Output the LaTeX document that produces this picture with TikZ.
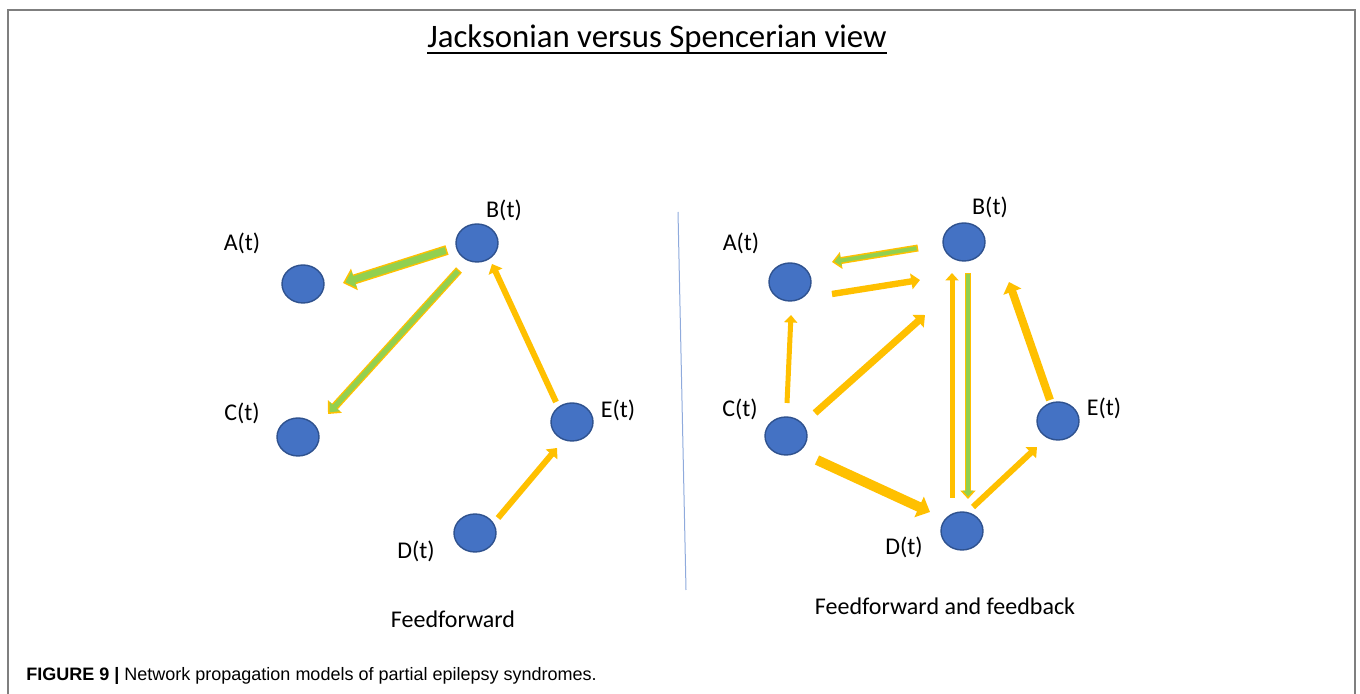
\documentclass[tikz,border=0pt]{standalone}
\usepackage{fontspec}
\setmainfont{Carlito}
\newfontfamily\capfont{Liberation Sans}
\usetikzlibrary{arrows.meta,shapes.geometric}
\definecolor{ballblue}{HTML}{4472C4}
\definecolor{ballrim}{HTML}{2F528F}
\definecolor{amber}{HTML}{FFC000}
\definecolor{leaf}{HTML}{92D050}
\definecolor{divider}{HTML}{8FAADC}
\definecolor{framegray}{HTML}{7F7F7F}
\tikzset{>={Triangle[width=2pt 1.8,length=1.5pt 0.9]}}
\tikzset{ball/.style={ellipse,draw=ballrim,fill=ballblue,line width=0.7pt,
  minimum width=21pt,minimum height=19pt,inner sep=0pt}}

\begin{document}
\begin{tikzpicture}[x=0.5pt,y=-0.5pt]

\tikzstyle{lab}=[inner sep=0pt,font=\fontsize{12}{14}\selectfont]
\tikzstyle{fwd}=[->,draw=amber,line width=#1]
\tikzstyle{fbout}=[->,draw=amber,line width=#1]
\tikzstyle{fbin}=[->,draw=leaf,line width=#1,shorten >=1.2pt,shorten <=0.75pt]

 \useasboundingbox (0,0) rectangle (1360,694);

 % frame
 \coordinate (fbl) at (8,694);
 \coordinate (ftl) at (8,10);
 \coordinate (ftr) at (1355,10);
 \coordinate (fbr) at (1355,694);
 \draw[framegray,line width=1pt] (fbl) -- (ftl) -- (ftr) -- (fbr);

 \node[inner sep=0pt,anchor=base,font=\fontsize{16.4}{20}\selectfont]
  (title) at (657,48) {Jacksonian versus Spencerian view};
 \draw[line width=0.75pt] ([yshift=-2.6pt]title.base west) 
  -- ([yshift=-2.6pt]title.base east);

 % feedforward
 \node[ball] (la) at (303,284) {};
 \node[ball] (lb) at (477,243) {};
 \node[ball] (lc) at (298,437) {};
 \node[ball] (le) at (572,422) {};
 \node[ball] (ld) at (475,533) {};
 \node[lab] (la-t) at (242,243) {A(t)};
 \node[lab] (lb-t) at (504,210) {B(t)};
 \node[lab] (lc-t) at (242,413) {C(t)};
 \node[lab] (le-t) at (618,410) {E(t)};
 \node[lab] (ld-t) at (416,551) {D(t)};

 \draw[fbout=5pt] ([shift={(-30,7)}]lb.center) -- ([shift={(40,-1)}]la.center);
 \draw[fbin=3.5pt] ([shift={(-30,7)}]lb.center) -- ([shift={(40,-1)}]la.center);
 \draw[fbout=4pt] ([shift={(-18,27)}]lb.center) -- ([shift={(30,-23)}]lc.center);
 \draw[fbin=2.6pt] ([shift={(-18,27)}]lb.center) -- ([shift={(30,-23)}]lc.center);
 \draw[fwd=3pt] ([shift={(-16,-20)}]le.center) -- ([shift={(15,21)}]lb.center);
 \draw[fwd=3pt] ([shift={(23,-15)}]ld.center) -- ([shift={(-15,26)}]le.center);

 \node[lab] (ff) at (453,619) {Feedforward};

 \coordinate (dtop) at (678,212);
 \coordinate (dbot) at (686,590);
 \draw[divider,line width=0.5pt] (dtop) -- (dbot);

 % feedforward and feedback
 \node[ball] (ra) at (790,282) {};
 \node[ball] (rb) at (964,242) {};
 \node[ball] (rc) at (786,436) {};
 \node[ball] (re) at (1058,421) {};
 \node[ball] (rd) at (962,531) {};
 \node[lab] (ra-t) at (741,243) {A(t)};
 \node[lab] (rb-t) at (990,207) {B(t)};
 \node[lab] (rc-t) at (740,409) {C(t)};
 \node[lab] (re-t) at (1104,408) {E(t)};
 \node[lab] (rd-t) at (904,547) {D(t)};

 \draw[fbout=3.5pt] ([shift={(-46,6)}]rb.center) -- ([shift={(42,-20)}]ra.center);
 \draw[fbin=2pt] ([shift={(-46,6)}]rb.center) -- ([shift={(42,-20)}]ra.center);
 \draw[fwd=3.2pt] ([shift={(42,12)}]ra.center) -- ([shift={(-44,38)}]rb.center);
 \draw[fwd=2.5pt] ([shift={(1,-33)}]rc.center) -- ([shift={(1,33)}]ra.center);
 \draw[fwd=3.5pt] ([shift={(29,-23)}]rc.center) -- ([shift={(-39,73)}]rb.center);
 \draw[fwd=5pt] ([shift={(31,24)}]rc.center) -- ([shift={(-32,-19)}]rd.center);
 \draw[fwd=2.5pt] ([shift={(-10,-33)}]rd.center) -- ([shift={(-12,31)}]rb.center);
 \draw[fbout=3pt] ([shift={(4,31)}]rb.center) -- ([shift={(6,-32)}]rd.center);
 \draw[fbin=1.6pt] ([shift={(4,31)}]rb.center) -- ([shift={(6,-32)}]rd.center);
 \draw[fwd=3pt] ([shift={(11,-24)}]rd.center) -- ([shift={(-21,26)}]re.center);
 \draw[fwd=4pt] ([shift={(-8,-21)}]re.center) -- ([shift={(45,40)}]rb.center);

 \node[lab] (fb) at (945,606) {Feedforward and feedback};

 \node[inner sep=0pt,anchor=base west,font=\capfont\fontsize{9}{11}\selectfont]
  (cap) at (26,680) {\textbf{FIGURE 9 |} Network propagation models of partial epilepsy syndromes.};
\end{tikzpicture}
\end{document}
